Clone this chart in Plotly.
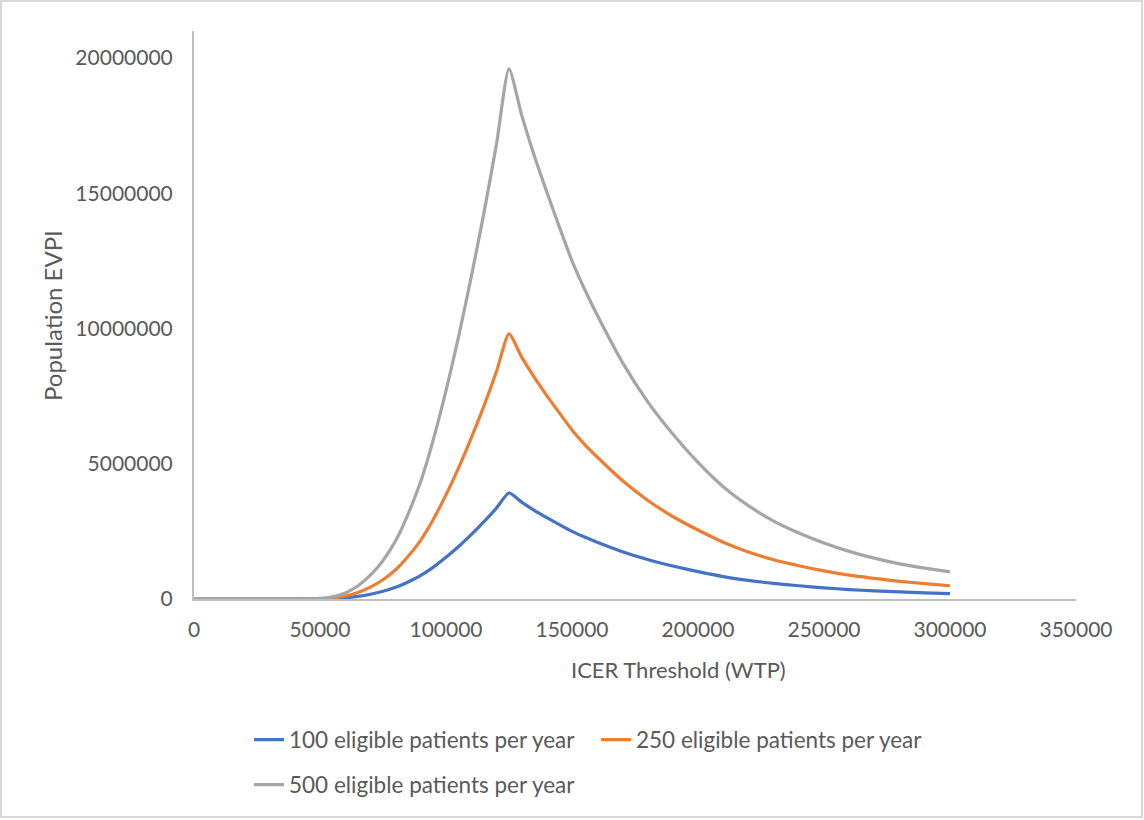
import plotly.graph_objects as go

# Willingness-to-pay thresholds (x axis)
wtp = [0, 10000, 20000, 30000, 40000, 50000, 55000, 60000, 65000, 70000,
       75000, 80000, 85000, 90000, 95000, 100000, 105000, 110000, 115000, 120000,
       125000, 130000, 135000, 140000, 145000, 150000, 155000, 160000, 170000, 180000,
       190000, 200000, 210000, 220000, 230000, 240000, 250000, 260000, 270000, 280000,
       290000, 300000]

# Population EVPI (in millions) for each cohort size
evpi_100_m = [0, 0, 0, 0, 0, 0.004, 0.016, 0.044, 0.096, 0.176,
              0.284, 0.43, 0.63, 0.87, 1.18, 1.54, 1.94, 2.38, 2.85, 3.36,
              3.92, 3.58, 3.28, 3.01, 2.75, 2.5, 2.29, 2.1, 1.75, 1.46,
              1.22, 1.01, 0.83, 0.69, 0.58, 0.49, 0.41, 0.35, 0.30, 0.26,
              0.23, 0.20]
evpi_250_m = [0, 0, 0, 0, 0, 0.01, 0.04, 0.11, 0.24, 0.44,
              0.71, 1.08, 1.58, 2.18, 2.95, 3.85, 4.85, 5.95, 7.12, 8.4,
              9.8, 8.95, 8.2, 7.52, 6.88, 6.25, 5.72, 5.25, 4.38, 3.65,
              3.05, 2.55, 2.1, 1.74, 1.45, 1.23, 1.04, 0.88, 0.76, 0.65,
              0.57, 0.49]
evpi_500_m = [0, 0, 0, 0, 0, 0.02, 0.08, 0.22, 0.48, 0.88,
              1.42, 2.15, 3.15, 4.35, 5.9, 7.7, 9.7, 11.9, 14.25, 16.8,
              19.6, 17.9, 16.4, 15.05, 13.75, 12.5, 11.45, 10.5, 8.75, 7.3,
              6.1, 5.05, 4.15, 3.45, 2.88, 2.44, 2.07, 1.76, 1.51, 1.3,
              1.14, 1.0]

series_names = ["100 eligible patients per year",
                "250 eligible patients per year",
                "500 eligible patients per year"]
series_values = [evpi_100_m, evpi_250_m, evpi_500_m]
series_colors = ["#4472C4", "#ED7D31", "#A5A5A5"]
series_legends = ["legend", "legend", "legend2"]

FONT = "Lato"
TEXT = "#595959"
AXIS = "#BFBFBF"

fig = go.Figure()
for name, vals, col, lg in zip(series_names, series_values, series_colors, series_legends):
    fig.add_trace(go.Scatter(
        x=wtp, y=[v * 1e6 for v in vals], mode="lines", name=name,
        line=dict(color=col, width=3.2, shape="spline", smoothing=0.6),
        legend=lg,
    ))

W, H = 1144, 820
L, R, T, B = 194, 68, 31, 221
pw, ph = W - L - R, H - T - B


def px_x(p):
    return (p - L) / pw


def px_y(p):
    return (H - B - p) / ph


fig.update_layout(
    width=W, height=H,
    margin=dict(l=L, r=R, t=T, b=B),
    paper_bgcolor="white", plot_bgcolor="white",
    font=dict(family=FONT, size=21, color=TEXT),
    xaxis=dict(
        range=[0, 350000], tickmode="linear", tick0=0, dtick=50000,
        showgrid=False, zeroline=False, showline=True, linecolor=AXIS, linewidth=2,
        ticks="", tickformat="d", ticklabelstandoff=11,
    ),
    yaxis=dict(
        range=[0, 21000000], tickmode="linear", tick0=0, dtick=5000000,
        showgrid=False, zeroline=False, showline=True, linecolor=AXIS, linewidth=2,
        ticks="", tickformat="d", ticklabelstandoff=15,
    ),
    legend=dict(
        orientation="h", x=px_x(249), y=px_y(740), xanchor="left", yanchor="middle",
        entrywidth=302, entrywidthmode="pixels", bgcolor="rgba(0,0,0,0)",
        font=dict(size=22.5, color=TEXT),
    ),
    legend2=dict(
        orientation="h", x=px_x(249), y=px_y(785), xanchor="left", yanchor="middle",
        bgcolor="rgba(0,0,0,0)", font=dict(size=22.5, color=TEXT),
    ),
    annotations=[
        dict(text="ICER Threshold (WTP)", xref="paper", yref="paper",
             x=px_x(678), y=px_y(669), xanchor="center", yanchor="middle",
             showarrow=False, font=dict(size=22, color=TEXT)),
        dict(text="Population EVPI", xref="paper", yref="paper",
             x=px_x(52), y=px_y(316), xanchor="center", yanchor="middle",
             textangle=-90, showarrow=False, font=dict(size=24, color=TEXT)),
    ],
    shapes=[dict(
        type="rect", xref="paper", yref="paper", layer="below",
        x0=px_x(1), x1=px_x(1142), y0=px_y(817), y1=px_y(1),
        line=dict(color="#D9D9D9", width=2), fillcolor="rgba(0,0,0,0)",
    )],
)

fig.write_html("out.html")
